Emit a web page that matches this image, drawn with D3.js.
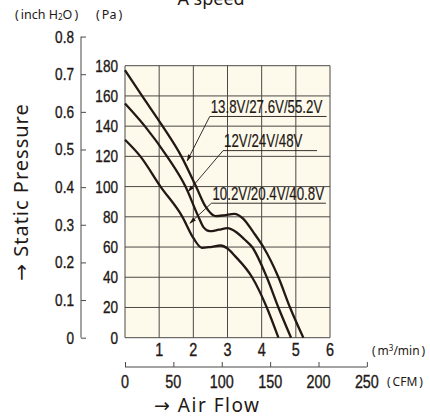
<!DOCTYPE html>
<html>
<head>
<meta charset="utf-8">
<script src="https://cdn.jsdelivr.net/npm/d3@7"></script>
<style>
  body { margin: 0; background: #fff; }
  text { fill: #231815; }
  .num { font-family: 'Liberation Sans', Arial, sans-serif; stroke: #231815; stroke-width: 0.35; }
  .gothic { font-family: 'Noto Sans', 'DejaVu Sans', sans-serif; }
</style>
</head>
<body>
<script>
// m3/min vs Pa
var flowTicks = [1, 2, 3, 4, 5, 6]
var paTicks = [0, 20, 40, 60, 80, 100, 120, 140, 160, 180]
var inchTicks = [0, 0.1, 0.2, 0.3, 0.4, 0.5, 0.6, 0.7, 0.8]
var cfmTicks = [0, 50, 100, 150, 200, 250]

var seriesNames = ['13.8V/27.6V/55.2V', '12V/24V/48V', '10.2V/20.4V/40.8V']

var highFlow = [0, 0.5, 1.1, 1.65, 2.08, 2.35, 2.65, 2.9, 3.2, 3.45, 3.75, 4.05, 4.49, 4.83, 5.22]
var highPa = [177, 160, 140, 120, 100, 87, 80.5, 81, 82, 79, 70, 60, 40, 20, 0]

var midFlow = [0, 0.58, 1.23, 1.77, 2.15, 2.3, 2.48, 2.75, 3.0, 3.25, 3.5, 3.72, 4.15, 4.49, 4.86]
var midPa = [155, 140, 120, 100, 80, 73, 70.5, 71.5, 72.5, 70, 65, 60, 40, 20, 0]

var lowFlow = [0, 0.45, 1.04, 1.68, 2.0, 2.25, 2.5, 2.8, 3.0, 3.22, 3.72, 4.15, 4.49]
var lowPa = [131, 120, 100, 80, 66, 59.5, 60, 61, 59, 54, 40, 20, 0]

// arrow tip on the curve and start/end of the label underline (data units)
var tipFlow = [1.82, 1.85, 1.9]
var tipPa = [117, 96.7, 75.8]
var lblFlow = [2.48, 2.87, 2.53]
var lblPa = [146.4, 123.8, 89]
var lblEnd = [5.9, 5.62, 5.88]

var PA_PER_INCH = 249.09
var CFM_PER_M3 = 35.315

var width = 430, height = 419

var svg = d3.select('body').append('svg')
    .attr('width', width)
    .attr('height', height)

var x = d3.scaleLinear().domain([0, 6]).range([125, 330])
var y = d3.scaleLinear().domain([0, 180]).range([337.7, 65.7])

var ink = '#231815'
var grid = '#4d4845'

// condensed numbers: squeeze the glyphs sideways
function numText(g, data, posFn, anchor, size, sx, fmt) {
    return g.selectAll('text')
        .data(data)
        .enter().append('text')
        .attr('class', 'num')
        .attr('text-anchor', anchor)
        .attr('font-size', size)
        .attr('transform', function (d, i) {
            var p = posFn(d, i)
            return 'translate(' + p[0] + ',' + p[1] + ') scale(' + sx + ',1)'
        })
        .text(fmt || function (d) { return d })
}

// plot area
svg.append('rect')
    .attr('x', x(0)).attr('y', y(180))
    .attr('width', x(6) - x(0)).attr('height', y(0) - y(180))
    .attr('fill', '#fdfaec')

svg.append('g').selectAll('line')
    .data(paTicks)
    .enter().append('line')
    .attr('x1', x(0)).attr('x2', x(6))
    .attr('y1', function (d) { return y(d) })
    .attr('y2', function (d) { return y(d) })
    .attr('stroke', grid).attr('stroke-width', 1)

svg.append('g').selectAll('line')
    .data([0].concat(flowTicks))
    .enter().append('line')
    .attr('y1', y(0)).attr('y2', y(180))
    .attr('x1', function (d) { return x(d) })
    .attr('x2', function (d) { return x(d) })
    .attr('stroke', grid).attr('stroke-width', 1)

// Pa labels
numText(svg.append('g'), paTicks, function (d) { return [118, y(d) + 6] }, 'end', 17, 0.8)

// m3/min labels
numText(svg.append('g'), flowTicks, function (d) { return [x(d), 356] }, 'middle', 18, 0.8)

// inch H2O axis
var yInch = d3.scaleLinear()
    .domain([0, 0.8])
    .range([y(0), y(0.8 * PA_PER_INCH)])

var inchAxis = svg.append('g')
    .attr('transform', 'translate(81,0)')
    .call(d3.axisRight(yInch).tickValues(inchTicks).tickSize(5).tickFormat(''))
inchAxis.select('.domain').attr('stroke', grid).attr('d', 'M0,' + yInch(0) + 'V' + yInch(0.8))
inchAxis.selectAll('.tick line').attr('stroke', grid)

numText(svg.append('g'), inchTicks, function (d) { return [74, yInch(d) + 6] }, 'end', 17, 0.8,
    function (d) { return d === 0 ? '0' : d3.format('.1f')(d) })

// CFM axis
var xCfm = d3.scaleLinear()
    .domain([0, 250])
    .range([x(0), x(250 / CFM_PER_M3)])

var cfmAxis = svg.append('g')
    .attr('transform', 'translate(0,367)')
    .call(d3.axisTop(xCfm).tickValues(cfmTicks).tickSize(5).tickFormat(''))
cfmAxis.select('.domain').attr('stroke', grid).attr('d', 'M' + xCfm(0) + ',0H' + xCfm(250))
cfmAxis.selectAll('.tick line').attr('stroke', grid)

numText(svg.append('g'), cfmTicks, function (d) { return [xCfm(d), 388] }, 'middle', 18, 0.8)

// curves
var curves = [
    d3.zip(highFlow, highPa),
    d3.zip(midFlow, midPa),
    d3.zip(lowFlow, lowPa)
]

var line = d3.line()
    .x(function (d) { return x(d[0]) })
    .y(function (d) { return y(d[1]) })
    .curve(d3.curveMonotoneX)

svg.append('g').selectAll('path')
    .data(curves)
    .enter().append('path')
    .attr('d', line)
    .attr('fill', 'none')
    .attr('stroke', ink)
    .attr('stroke-width', 2.3)

// labels with leader arrows
svg.append('defs').append('marker')
    .attr('id', 'tip')
    .attr('viewBox', '0 0 10 10')
    .attr('refX', 9).attr('refY', 5)
    .attr('markerWidth', 7).attr('markerHeight', 7)
    .attr('markerUnits', 'userSpaceOnUse')
    .attr('orient', 'auto')
    .append('path')
    .attr('d', 'M0,2L10,5L0,8z')
    .attr('fill', ink)

var notes = svg.append('g')

notes.selectAll('polyline')
    .data(seriesNames)
    .enter().append('polyline')
    .attr('points', function (d, i) {
        return [
            [x(lblEnd[i]), y(lblPa[i])],
            [x(lblFlow[i]), y(lblPa[i])],
            [x(tipFlow[i]), y(tipPa[i])]
        ].join(' ')
    })
    .attr('fill', 'none')
    .attr('stroke', ink)
    .attr('stroke-width', 0.9)
    .attr('marker-end', 'url(#tip)')

numText(notes, seriesNames, function (d, i) { return [x(lblFlow[i]) + 1, y(lblPa[i]) - 3.5] },
    'start', 17.5, 0.76)
    .style('stroke-width', 0.2)

// titles and units
svg.append('text')
    .attr('class', 'gothic')
    .attr('x', 211).attr('y', 5)
    .attr('text-anchor', 'middle')
    .attr('font-size', 18)
    .text('A speed')

svg.append('text')
    .attr('class', 'gothic')
    .attr('x', 15).attr('y', 19)
    .attr('font-size', 12.5)
    .html('(\u2009inch H<tspan font-size="8" dy="1">2</tspan><tspan dy="-1">O\u2009)</tspan>')

svg.append('text')
    .attr('class', 'gothic')
    .attr('x', 96).attr('y', 19)
    .attr('font-size', 12.5)
    .text('(\u2009Pa\u2009)')

svg.append('text')
    .attr('class', 'gothic')
    .attr('x', 372).attr('y', 355)
    .attr('font-size', 12)
    .html('(\u2009m<tspan font-size="8" dy="-4">3</tspan><tspan dy="4">/min\u2009)</tspan>')

svg.append('text')
    .attr('class', 'gothic')
    .attr('x', 387).attr('y', 386)
    .attr('font-size', 12)
    .text('(\u2009CFM\u2009)')

svg.append('text')
    .attr('class', 'gothic')
    .attr('transform', 'translate(28,192) rotate(-90)')
    .attr('text-anchor', 'middle')
    .attr('font-size', 20)
    .attr('letter-spacing', 1)
    .text('\u2192 Static Pressure')

svg.append('text')
    .attr('class', 'gothic')
    .attr('x', 154).attr('y', 412)
    .attr('font-size', 19)
    .attr('letter-spacing', 1.5)
    .text('\u2192 Air Flow')
</script>
</body>
</html>
